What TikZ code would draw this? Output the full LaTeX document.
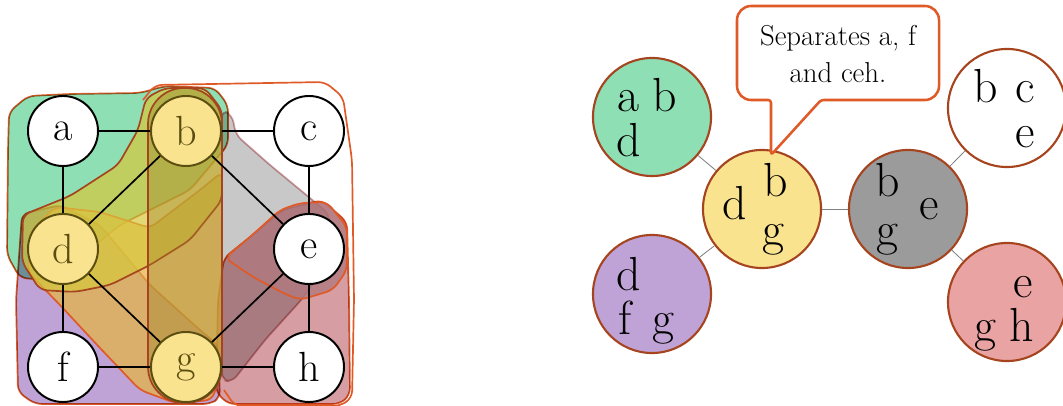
\documentclass[tikz,border=0pt]{standalone}
\usepackage{xcolor}
\usepackage{tikz}
\usetikzlibrary{positioning}
\definecolor{tdorange}{RGB}{224, 90, 40}
\definecolor{tdbrown}{RGB}{165, 68, 30}
\definecolor{tdgreen}{RGB}{143, 223, 180}
\definecolor{tdpurple}{RGB}{192, 163, 214}
\definecolor{tdpink}{RGB}{234, 163, 163}
\definecolor{tdrose}{RGB}{214, 158, 162}
\definecolor{tdmauve}{RGB}{176, 122, 128}
\definecolor{tdgray}{RGB}{155, 155, 155}
\definecolor{tdsilver}{RGB}{200, 200, 200}
\definecolor{tdyellow}{RGB}{249, 227, 143}
\definecolor{tdolive}{RGB}{214, 200, 60}
\definecolor{tdamber}{RGB}{228, 180, 72}
\definecolor{tdband}{RGB}{160, 130, 40}
\definecolor{tdink}{RGB}{92, 78, 16}

\begin{document}
\begin{tikzpicture}[x=0.025cm, y=-0.025cm, node distance=1.15cm and 1.275cm]
\tikzstyle{region} = [draw=tdorange, line width=1.2pt, rounded corners=5pt, line join=round]
\tikzstyle{vertex} = [circle, draw=black, line width=1.4pt, fill=white, minimum size=1.75cm, inner sep=0pt, font=\fontsize{30}{30}\selectfont]
\tikzstyle{sepvertex} = [vertex, fill=tdyellow, draw=tdink, text=tdink]
\tikzstyle{edge} = [line width=1.2pt]
\tikzstyle{bag} = [circle, draw=tdbrown, line width=1.5pt, minimum size=2.95cm, inner sep=0pt]
\tikzstyle{letter} = [anchor=base, inner sep=0pt, font=\fontsize{34}{34}\selectfont]
\tikzstyle{link} = [draw=gray, line width=0.6pt]
\tikzstyle{callout} = [draw=tdorange, fill=white, line width=1.8pt, line join=round]

\useasboundingbox (0,0) rectangle (1063,406);

% bags of the decomposition, laid over the graph
\begin{scope}[blend group=multiply]
\path[region, fill=tdgreen] (9,112) -- (28,96) -- (70,94) -- (140,93) -- (165,86) -- (215,88) -- (228,105) -- (228,145) -- (190,190) -- (120,225) -- (75,262) -- (50,280) -- (20,278) -- (7,255) -- (8,150) -- cycle;
\path[region, fill=tdpurple] (22,214) -- (60,205) -- (100,225) -- (150,285) -- (200,330) -- (218,345) -- (220,398) -- (210,404) -- (35,404) -- (18,392) -- (16,300) -- cycle;
\path[region, draw=tdrose, fill=tdsilver] (222,110) -- (232,115) -- (236,135) -- (270,165) -- (310,198) -- (330,215) -- (322,270) -- (303,298) -- (265,340) -- (232,382) -- (222,380) -- cycle;
\path[region, fill=tdrose] (224,258) -- (255,233) -- (282,210) -- (322,200) -- (347,222) -- (349,300) -- (350,395) -- (340,404) -- (228,404) -- (216,392) -- (218,300) -- cycle;
\end{scope}
\path[region, fill=tdmauve, fill opacity=0.8] (225,258) -- (250,237) -- (280,210) -- (300,203) -- (327,202) -- (347,227) -- (347,270) -- (333,290) -- (300,300) -- (283,293) -- (253,277) -- cycle;
\path[region] (143,100) -- (155,85) -- (325,82) -- (343,97) -- (352,160) -- (354,300) -- (352,398) -- (340,406) -- (235,406) -- (224,390);
\path[region, fill=tdamber, fill opacity=0.75] (30,232) -- (55,207) -- (100,212) -- (150,228) -- (200,190) -- (222,172) -- (222,370) -- (212,400) -- (175,403) -- (140,390) -- (100,348) -- (60,305) -- (28,272) -- cycle;
\path[region, draw=tdbrown, fill=tdolive, fill opacity=0.7] (23,215) -- (70,196) -- (118,165) -- (138,130) -- (146,98) -- (165,88) -- (205,88) -- (222,110) -- (222,200) -- (190,240) -- (150,265) -- (110,285) -- (75,292) -- (40,290) -- (22,262) -- cycle;
\path[region, draw=tdbrown, fill=tdband, fill opacity=0.4, rounded corners=0.9cm] (148,88) rectangle (222,403);

% the graph
\node (a) [vertex] at (63,131) {a};
\node (b) [sepvertex, right=of a] {b};
\node (c) [vertex, right=of b] {c};
\node (d) [sepvertex, below=of a] {d};
\node (e) [vertex, below=of c] {e};
\node (f) [vertex, below=of d] {f};
\node (g) [sepvertex, right=of f] {g};
\node (h) [vertex, right=of g] {h};

\draw[edge] (a) -- (b);
\draw[edge] (b) -- (c);
\draw[edge] (a) -- (d);
\draw[edge] (c) -- (e);
\draw[edge] (b) -- (d);
\draw[edge] (b) -- (e);
\draw[edge] (d) -- (g);
\draw[edge] (e) -- (g);
\draw[edge] (d) -- (f);
\draw[edge] (e) -- (h);
\draw[edge] (f) -- (g);
\draw[edge] (g) -- (h);

% the tree of bags
\node (abd) [bag, fill=tdgreen] at (652,117) {};
\node (dbg) [bag, fill=tdyellow] at (762,209) {};
\node (bge) [bag, fill=tdgray] at (908,209) {};
\node (bce) [bag, fill=white] at (1007,108) {};
\node (dfg) [bag, fill=tdpurple] at (652,294) {};
\node (egh) [bag, fill=tdpink] at (1007,302) {};

\draw[link] (abd) -- (dbg);
\draw[link] (dfg) -- (dbg);
\draw[link] (dbg) -- (bge);
\draw[link] (bge) -- (bce);
\draw[link] (bge) -- (egh);

\node (abd-a) [letter] at (628,112) {a};
\node (abd-b) [letter] at (665,112) {b};
\node (abd-d) [letter] at (629,157) {d};
\node (dbg-d) [letter] at (735,220) {d};
\node (dbg-b) [letter] at (776,197) {b};
\node (dbg-g) [letter] at (773,245) {g};
\node (bge-b) [letter] at (888,197) {b};
\node (bge-e) [letter] at (929,220) {e};
\node (bge-g) [letter] at (887,245) {g};
\node (bce-b) [letter] at (986,103) {b};
\node (bce-c) [letter] at (1025,103) {c};
\node (bce-e) [letter] at (1025,148) {e};
\node (dfg-d) [letter] at (629,290) {d};
\node (dfg-f) [letter] at (625,334) {f};
\node (dfg-g) [letter] at (663,334) {g};
\node (egh-e) [letter] at (1023,297) {e};
\node (egh-g) [letter] at (985,341) {g};
\node (egh-h) [letter] at (1022,341) {h};

% note on the separating bag
\coordinate (tip) at (771,155);
\draw[callout, rounded corners=10pt] (771,100) -- (737,100) -- (737,6) -- (939,6) -- (939,100) [rounded corners=2pt] -- (821,100) -- (tip) -- cycle;
\node (note) [align=center, font=\fontsize{20.5}{26}\selectfont] at (838,54) {Separates a, f\\and ceh.};
\end{tikzpicture}
\end{document}
